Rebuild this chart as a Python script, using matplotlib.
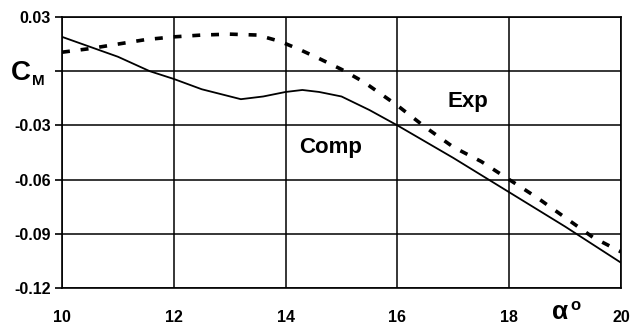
import numpy as np
import matplotlib.pyplot as plt

# pitching moment vs angle of attack
alpha_comp = [10, 11, 11.57, 12, 12.5, 13.2, 13.6, 14, 14.3, 14.6, 15, 15.5, 16, 17, 18, 19, 20]
cm_comp = [0.019, 0.008, 0.0, -0.0043, -0.010, -0.0155, -0.0140, -0.0115, -0.0104,
           -0.0115, -0.014, -0.0215, -0.030, -0.048, -0.067, -0.086, -0.106]

alpha_exp = [10, 10.5, 11, 11.5, 12, 12.5, 13, 13.5, 13.9, 14.25, 14.6, 15, 15.4, 16,
             16.5, 17, 17.5, 18, 18.5, 19, 19.5, 20]
cm_exp = [0.0105, 0.0125, 0.015, 0.0175, 0.019, 0.020, 0.0205, 0.020, 0.0165, 0.012,
          0.007, 0.001, -0.006, -0.019, -0.031, -0.042, -0.050, -0.060, -0.070,
          -0.081, -0.092, -0.100]

x_ticks = [10, 12, 14, 16, 18, 20]
y_ticks = [0.03, 0.0, -0.03, -0.06, -0.09, -0.12]
y_labels = ['0.03', '', '-0.03', '-0.06', '-0.09', '-0.12']

plt.rcParams['font.family'] = ['Liberation Sans', 'DejaVu Sans']
plt.rcParams['font.weight'] = 'bold'

fig = plt.figure(figsize=(6.3, 3.26), dpi=100)
ax = fig.add_axes([0.0984, 0.1166, 0.8873, 0.8313])

ax.plot(alpha_comp, cm_comp, color='black', lw=1.3, zorder=3)
ax.plot(alpha_exp, cm_exp, color='black', lw=2.6, dashes=(2.2, 3.0), zorder=3)

ax.set_xlim(10, 20)
ax.set_ylim(-0.12, 0.03)
ax.set_xticks(x_ticks)
ax.set_xticklabels([str(v) for v in x_ticks], fontsize=11.5, fontweight='bold')
ax.set_yticks(y_ticks)
ax.set_yticklabels(y_labels, fontsize=11.5, fontweight='bold')
ax.tick_params(axis='x', length=0, pad=16)
ax.tick_params(axis='y', length=5, width=1.2, pad=3)
ax.grid(True, color='black', lw=1.1)
for s in ax.spines.values():
    s.set_linewidth(1.2)

ax.text(16.9, -0.017, 'Exp', fontsize=16, fontweight='bold', ha='left', va='center')
ax.text(14.25, -0.0425, 'Comp', fontsize=16, fontweight='bold', ha='left', va='center')

fig.text(0.017, 0.775, 'C', fontsize=20, fontweight='bold', va='center')
fig.text(0.051, 0.752, 'M', fontsize=11, fontweight='bold', va='center')
fig.text(0.876, 0.022, 'α', fontsize=19, fontweight='bold', va='baseline')
fig.text(0.906, 0.05, 'o', fontsize=12, fontweight='bold', va='baseline')

fig.savefig('out.png', dpi=100)
